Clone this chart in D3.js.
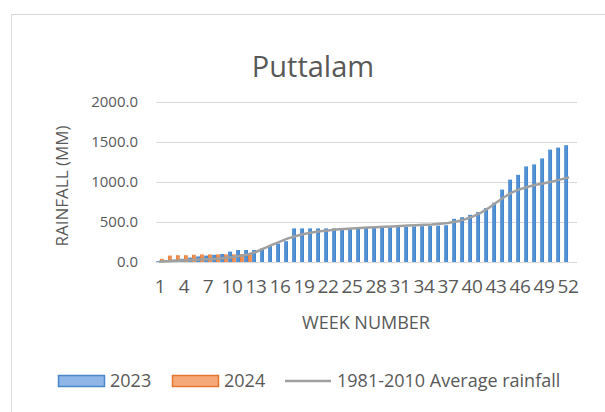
<!DOCTYPE html>
<html>
<head>
<meta charset="utf-8">
<script src="https://cdn.jsdelivr.net/npm/d3@7"></script>
<style>
  body { margin: 0; background: #fff; }
  text { font-family: "Open Sans", sans-serif; fill: #595959; }
</style>
</head>
<body>
<svg id="chart" width="605" height="412"></svg>
<script>
// weeks 1..52
var weeks = d3.range(1, 53);
var rain2023 = [10, 20, 30, 40, 55, 70, 80, 90, 100, 130, 150, 150, 150, 170, 200, 230, 260,
  420, 420, 420, 420, 420, 420, 420, 425, 425, 428, 430, 432, 435, 438, 440, 445, 448, 452, 455, 460,
  540, 560, 590, 625, 675, 740, 905, 1030, 1090, 1195, 1220, 1295, 1405, 1430, 1460];
var rain2024 = [40, 80, 85, 85, 90, 95, 95, 95, 95, 95, 100, 100];
var avgRain = [5, 10, 15, 20, 25, 30, 35, 40, 50, 60, 75, 95, 125, 170, 215, 255, 295, 325, 350, 370,
  385, 395, 405, 412, 418, 425, 430, 435, 440, 445, 450, 455, 460, 465, 470, 478, 488, 505, 530, 565,
  610, 670, 740, 810, 870, 910, 940, 965, 985, 1005, 1030, 1055];
var yTicks = [0, 500, 1000, 1500, 2000];
var series = ["2023", "2024"];

var svg = d3.select("#chart");

// chart border (cropped at right and bottom)
svg.append("rect").attr("x", 11.5).attr("y", 14.5).attr("width", 620).attr("height", 420)
  .attr("fill", "none").attr("stroke", "#d9d9d9");

var x = d3.scaleBand().domain(weeks).range([156, 572]).paddingInner(0.05).paddingOuter(0.02);
var xs = d3.scaleBand().domain(series).range([0, x.bandwidth()]);
var y = d3.scaleLinear().domain([0, 2000]).range([262, 102]);

// gridlines
svg.append("g").selectAll("line").data(yTicks).enter().append("line")
  .attr("x1", 156).attr("x2", 577)
  .attr("y1", function(d) { return Math.round(y(d)) + 0.5; })
  .attr("y2", function(d) { return Math.round(y(d)) + 0.5; })
  .attr("stroke", "#d9d9d9").attr("stroke-width", 1.2);

// y axis labels
svg.append("g").selectAll("text").data(yTicks).enter().append("text")
  .attr("x", 138).attr("y", function(d) { return y(d); })
  .attr("dy", "0.36em").attr("text-anchor", "end").attr("font-size", 15)
  .text(function(d) { return d3.format(".1f")(d); });

// x axis labels every 3 weeks
svg.append("g").selectAll("text").data(weeks.filter(function(w) { return (w - 1) % 3 === 0; }))
  .enter().append("text")
  .attr("x", function(d) { return x(d) + x.bandwidth() / 2; })
  .attr("y", 293).attr("text-anchor", "middle").attr("font-size", 19)
  .attr("letter-spacing", -0.3)
  .text(function(d) { return d; });

// gradient for bars
var defs = svg.append("defs");
var gb = defs.append("linearGradient").attr("id", "gBlue").attr("x1", 0).attr("x2", 1).attr("y1", 0).attr("y2", 0);
gb.append("stop").attr("offset", "0%").attr("stop-color", "#3f7fc6");
gb.append("stop").attr("offset", "50%").attr("stop-color", "#5797db");
gb.append("stop").attr("offset", "100%").attr("stop-color", "#3f7fc6");
var go = defs.append("linearGradient").attr("id", "gOrange").attr("x1", 0).attr("x2", 1).attr("y1", 0).attr("y2", 0);
go.append("stop").attr("offset", "0%").attr("stop-color", "#e8762e");
go.append("stop").attr("offset", "50%").attr("stop-color", "#f29a62");
go.append("stop").attr("offset", "100%").attr("stop-color", "#e8762e");

// 2023 bars
svg.append("g").selectAll("rect").data(rain2023).enter().append("rect")
  .attr("x", function(d, i) { return x(weeks[i]) + xs("2023"); })
  .attr("y", function(d) { return y(d); })
  .attr("width", xs.bandwidth())
  .attr("height", function(d) { return y(0) - y(d); })
  .attr("fill", "url(#gBlue)");

// 2024 bars
svg.append("g").selectAll("rect").data(rain2024).enter().append("rect")
  .attr("x", function(d, i) { return x(weeks[i]) + xs("2024"); })
  .attr("y", function(d) { return y(d); })
  .attr("width", xs.bandwidth())
  .attr("height", function(d) { return y(0) - y(d); })
  .attr("fill", "url(#gOrange)");

// average line
var line = d3.line()
  .x(function(d, i) { return x(weeks[i]) + x.bandwidth() / 2; })
  .y(function(d) { return y(d); });
svg.append("path").datum(avgRain).attr("d", line)
  .attr("fill", "none").attr("stroke", "#a0a0a0").attr("stroke-width", 2.5)
  .attr("stroke-linejoin", "round").attr("stroke-linecap", "round");

// titles
svg.append("text").attr("x", 313).attr("y", 77).attr("text-anchor", "middle")
  .attr("font-size", 29).text("Puttalam");
svg.append("text").attr("transform", "translate(68,186) rotate(-90)")
  .attr("text-anchor", "middle").attr("font-size", 17).text("RAINFALL (MM)");
svg.append("text").attr("x", 366).attr("y", 329).attr("text-anchor", "middle")
  .attr("font-size", 18).text("WEEK NUMBER");

// legend
var lg = svg.append("g");
lg.append("rect").attr("x", 58.5).attr("y", 375.5).attr("width", 46).attr("height", 11)
  .attr("fill", "#8fb6e6").attr("stroke", "#4a86c8").attr("stroke-width", 1.5);
lg.append("text").attr("x", 110).attr("y", 387).attr("font-size", 18).text("2023");
lg.append("rect").attr("x", 172.5).attr("y", 375.5).attr("width", 46).attr("height", 11)
  .attr("fill", "#f5a878").attr("stroke", "#e5762f").attr("stroke-width", 1.5);
lg.append("text").attr("x", 224).attr("y", 387).attr("font-size", 18).text("2024");
lg.append("line").attr("x1", 285).attr("x2", 331).attr("y1", 381).attr("y2", 381)
  .attr("stroke", "#a0a0a0").attr("stroke-width", 2.5);
lg.append("text").attr("x", 337).attr("y", 387).attr("font-size", 18).text("1981-2010 Average rainfall");
</script>
</body>
</html>
